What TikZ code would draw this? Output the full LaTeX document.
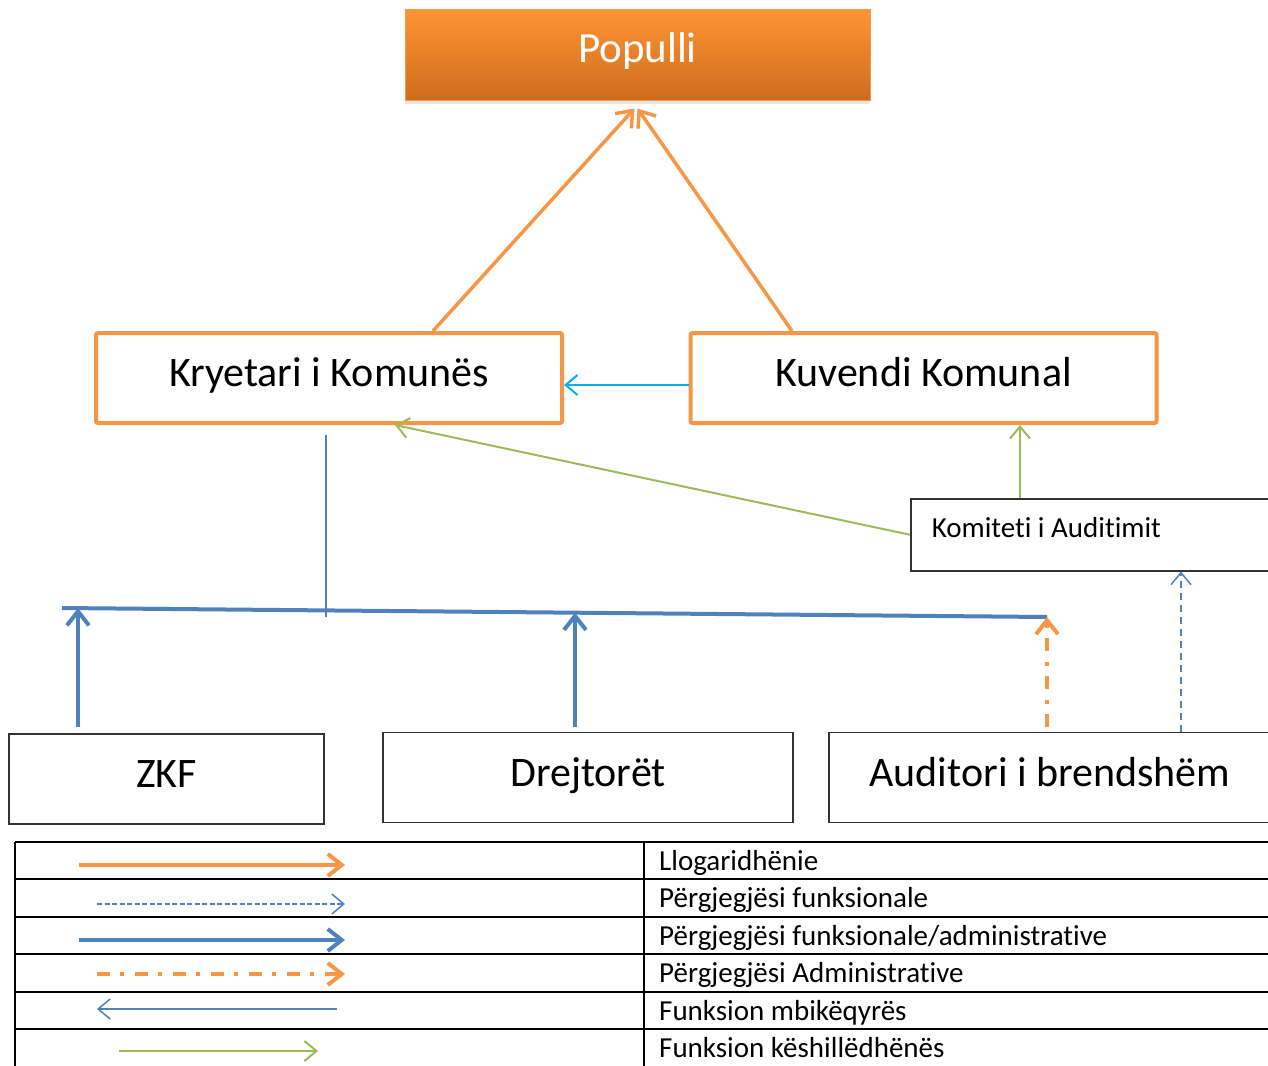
\documentclass[tikz,border=0pt]{standalone}
\usepackage{fontspec}
\setmainfont{Carlito}[Ligatures={NoCommon}]
\usetikzlibrary{arrows.meta, positioning, calc, shadows}

\definecolor{accorange}{RGB}{247,150,70}
\definecolor{orangetop}{RGB}{255,148,50}
\definecolor{orangebot}{RGB}{206,108,30}
\definecolor{accblue}{RGB}{79,129,189}
\definecolor{accgreen}{RGB}{155,187,89}
\definecolor{acccyan}{RGB}{0,176,240}

\tikzset{
    bigfont/.style={font=\fontsize{42}{50}\selectfont, text height=27pt, text depth=10pt},
    smallfont/.style={font=\fontsize{29}{34}\selectfont},
    govbox/.style={bigfont, draw=accorange, line width=4pt, rounded corners=2pt,
        minimum width=466pt, minimum height=90pt},
    unitbox/.style={bigfont, draw=black!80, line width=1.5pt, minimum height=90pt},
    thicktip/.style={-{Straight Barb[length=14pt,width=22pt]}},
    thintip/.style={-{Straight Barb[length=12pt,width=20pt]}},
    account/.style={thicktip, accorange, line width=3.5pt},
    funcresp/.style={thintip, accblue, line width=1.5pt, dash pattern=on 7pt off 5pt},
    fadm/.style={thicktip, accblue, line width=4pt},
    adminresp/.style={thicktip, accorange, line width=4pt, dash pattern=on 13pt off 10pt on 4pt off 11pt},
    oversight/.style={thintip, accblue, line width=1.5pt},
    supervise/.style={thintip, acccyan, line width=2pt},
    advice/.style={thintip, accgreen, line width=2pt},
    legendtext/.style={smallfont, anchor=west, inner sep=0pt, text height=19pt, text depth=0pt}
}

\begin{document}
\begin{tikzpicture}[x=1pt, y=-1pt]
    \clip (0,0) rectangle (1268,1065);

    % top level
    \node[draw=accorange, line width=1pt, top color=orangetop, bottom color=orangebot,
        drop shadow={shadow xshift=0pt, shadow yshift=-4pt, opacity=0.2},
        minimum width=465pt, minimum height=90pt, text=white,
        font=\fontsize{43}{50}\selectfont, text height=28pt, text depth=12pt]
        (pop) at (637.5,55) {Populli};

    \node[govbox] (kry) at (329,378) {Kryetari i Komunës};
    \node[govbox] (kuv) at (923.5,378) {Kuvendi Komunal};

    \node[smallfont, draw=black!80, line width=1.5pt, anchor=north west,
        minimum width=370pt, minimum height=72pt, text width=328pt, inner xsep=21pt,
        align=flush left, text height=19pt, text depth=13pt]
        (kom) at (910,498) {Komiteti i Auditimit};

    % units
    \node[unitbox, minimum width=315pt] (zkf) at (166.5,779) {ZKF};
    \node[unitbox, minimum width=410pt] (drj) at (588,777.5) {Drejtorët};
    \node[unitbox, minimum width=442pt] (aud) at (1050,777.5) {Auditori i brendshëm};

    % accountability
    \draw[account] ([xshift=104pt]kry.north) -- ([xshift=-3pt,yshift=-8pt]pop.south);
    \draw[account] ([xshift=-131.5pt]kuv.north) -- ([xshift=0pt,yshift=-8pt]pop.south);

    \draw[supervise] ([yshift=-7pt]kuv.west) -- ([yshift=-7pt]kry.east);
    \draw[advice] (kom.west) -- ([xshift=66pt]kry.south);
    \coordinate (kup) at ([xshift=110pt]kom.north west);
    \draw[advice] (kup) -- (kup |- kuv.south);

    % bar
    \coordinate (barL) at (62,608);
    \coordinate (barR) at (1047,617);
    \coordinate (b1) at ($(barL)!0.0162!(barR)$);
    \coordinate (b2) at ($(barL)!0.5208!(barR)$);
    \coordinate (stemend) at (326,617);
    \draw[accblue, line width=4pt] (barL) -- (barR);
    \draw[accblue, line width=1.5pt] ([xshift=-3pt,yshift=-10pt]kry.south) -- (stemend);

    \draw[fadm, shorten <=6pt] (b1 |- zkf.north) -- (b1);
    \draw[fadm, shorten <=5pt] (b2 |- drj.north) -- (b2);
    \draw[adminresp, shorten <=5pt] (barR |- aud.north) -- (barR);
    \coordinate (kdown) at ([xshift=271pt]kom.south west);
    \draw[funcresp] (kdown |- aud.north) -- (kdown);

    % legend
    \foreach \y in {842,879,917,954,992,1029,1068}
        \draw[line width=2pt] (15,\y) -- (1275,\y);
    \draw[line width=2pt] (15,842) -- (15,1068);
    \draw[line width=2pt] (644,842) -- (644,1068);

    \draw[account, line width=4pt] (79,865) -- (345,865);
    \draw[funcresp, dash pattern=on 5pt off 2.5pt] (97,904) -- (345,904);
    \draw[fadm] (79,940) -- (345,940);
    \draw[adminresp] (97,974) -- (345,974);
    \draw[oversight] (337,1009) -- (97,1009);
    \draw[advice] (119,1051) -- (318,1051);

    \node[legendtext] (t1) at (659,860.5) {Llogaridhënie};
    \node[legendtext] (t2) at (659,898) {Përgjegjësi funksionale};
    \node[legendtext] (t3) at (659,935.5) {Përgjegjësi funksionale/administrative};
    \node[legendtext] (t4) at (659,973) {Përgjegjësi Administrative};
    \node[legendtext] (t5) at (659,1010.5) {Funksion mbikëqyrës};
    \node[legendtext] (t6) at (659,1048) {Funksion këshillëdhënës};
\end{tikzpicture}
\end{document}
